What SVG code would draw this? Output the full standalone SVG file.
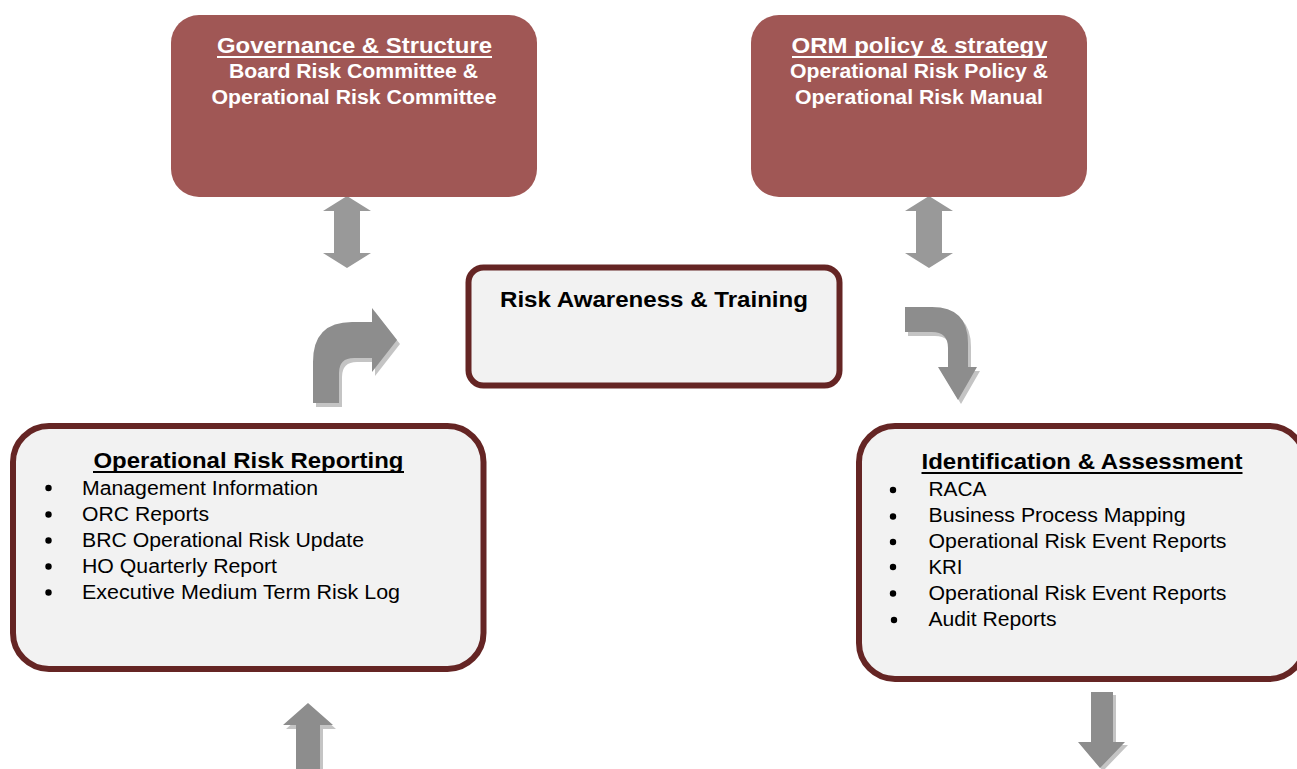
<svg xmlns="http://www.w3.org/2000/svg" width="1297" height="769" viewBox="0 0 1297 769">
<style>
text{font-family:"Liberation Sans",Arial,sans-serif}
.tb{fill:#a05755}
.lb{fill:#f2f2f2;stroke:#652524;stroke-width:6}
.wt{fill:#ffffff;font-weight:bold;text-anchor:middle}
.bt{fill:#000;font-size:20px}
.ttl{fill:#000;font-weight:bold;font-size:22.5px;text-anchor:middle}
.arr{fill:#8d8d8d}
.dar{fill:#999999}
.sh{fill:#c4c4c4}
.ul{stroke-width:2}
</style>
<rect width="1297" height="769" fill="#ffffff"/>
<g id="connectors">
<path class="dar" d="M347 196 L371 211 L360 211 L360 253 L371 253 L347 268 L323 253 L334 253 L334 211 L323 211 Z"/>
<path class="dar" d="M929 196 L953 211 L942 211 L942 253 L953 253 L929 268 L905 253 L916 253 L916 211 L905 211 Z"/>
<g transform="translate(3,4)"><path class="sh" d="M313 403 L313 362 Q313 322 352 322 L372 322 L372 308 L397 340 L372 372 L372 358 L354 358 Q339 358 339 373 L339 403 Z"/></g>
<path class="arr" d="M313 403 L313 362 Q313 322 352 322 L372 322 L372 308 L397 340 L372 372 L372 358 L354 358 Q339 358 339 373 L339 403 Z"/>
<g transform="translate(3,4)"><path class="sh" d="M905 307 L932 307 Q968 307 968 343 L968 367 L977 367 L958 400 L938 367 L948 367 L948 348 Q948 332 932 332 L905 332 Z"/></g>
<path class="arr" d="M905 307 L932 307 Q968 307 968 343 L968 367 L977 367 L958 400 L938 367 L948 367 L948 348 Q948 332 932 332 L905 332 Z"/>
<g transform="translate(3,4)"><path class="sh" d="M308 703 L333 725 L320 725 L320 775 L296 775 L296 725 L283 725 Z"/></g>
<path class="arr" d="M308 703 L333 725 L320 725 L320 775 L296 775 L296 725 L283 725 Z"/>
<g transform="translate(3,3)"><path class="sh" d="M1091 692 L1113 692 L1113 742 L1125 742 L1100 768 L1078 742 L1091 742 Z"/></g>
<path class="arr" d="M1091 692 L1113 692 L1113 742 L1125 742 L1100 768 L1078 742 L1091 742 Z"/>
</g>
<g id="governance">
<rect class="tb" x="171" y="15" width="366" height="182" rx="28"/>
<text class="wt" x="354.5" y="53" font-size="22.5" textLength="275" lengthAdjust="spacingAndGlyphs">Governance &amp; Structure</text>
<line class="ul" x1="217" y1="57" x2="492" y2="57" stroke="#ffffff"/>
<text class="wt" x="353.5" y="78" font-size="20" textLength="249" lengthAdjust="spacingAndGlyphs">Board Risk Committee &amp;</text>
<text class="wt" x="354" y="103.5" font-size="20" textLength="285" lengthAdjust="spacingAndGlyphs">Operational Risk Committee</text>
</g>
<g id="orm-policy">
<rect class="tb" x="751" y="15" width="336" height="182" rx="28"/>
<text class="wt" x="919.5" y="53" font-size="22.5" textLength="256" lengthAdjust="spacingAndGlyphs">ORM policy &amp; strategy</text>
<line class="ul" x1="792" y1="57" x2="1047" y2="57" stroke="#ffffff"/>
<text class="wt" x="919" y="78" font-size="20" textLength="258" lengthAdjust="spacingAndGlyphs">Operational Risk Policy &amp;</text>
<text class="wt" x="919" y="103.5" font-size="20" textLength="248" lengthAdjust="spacingAndGlyphs">Operational Risk Manual</text>
</g>
<g id="awareness">
<rect class="lb" x="468.5" y="267.5" width="371" height="118" rx="15" stroke-width="5"/>
<text class="ttl" x="654" y="307" textLength="308" lengthAdjust="spacingAndGlyphs">Risk Awareness &amp; Training</text>
</g>
<g id="reporting">
<rect class="lb" x="13" y="426" width="470.5" height="243" rx="36"/>
<text class="ttl" x="248.5" y="468" textLength="310" lengthAdjust="spacingAndGlyphs">Operational Risk Reporting</text>
<line class="ul" x1="93" y1="472" x2="404" y2="472" stroke="#000"/>
<g fill="#000">
<circle cx="48.5" cy="488" r="3.2"/><circle cx="48.5" cy="514.5" r="3.2"/><circle cx="48.5" cy="540.5" r="3.2"/><circle cx="48.5" cy="566.5" r="3.2"/><circle cx="48.5" cy="592.5" r="3.2"/>
</g>
<text class="bt" x="82" y="495" textLength="236" lengthAdjust="spacingAndGlyphs">Management Information</text>
<text class="bt" x="82" y="521" textLength="127" lengthAdjust="spacingAndGlyphs">ORC Reports</text>
<text class="bt" x="82" y="547" textLength="282" lengthAdjust="spacingAndGlyphs">BRC Operational Risk Update</text>
<text class="bt" x="82" y="573" textLength="195" lengthAdjust="spacingAndGlyphs">HO Quarterly Report</text>
<text class="bt" x="82" y="599" textLength="318" lengthAdjust="spacingAndGlyphs">Executive Medium Term Risk Log</text>
</g>
<g id="identification">
<rect class="lb" x="859" y="426" width="446" height="253" rx="36"/>
<text class="ttl" x="1082" y="469" textLength="321" lengthAdjust="spacingAndGlyphs">Identification &amp; Assessment</text>
<line class="ul" x1="921.5" y1="473" x2="1242.5" y2="473" stroke="#000"/>
<g fill="#000">
<circle cx="893" cy="490" r="3.2"/><circle cx="893" cy="516.5" r="3.2"/><circle cx="893" cy="542" r="3.2"/><circle cx="893" cy="567" r="3.2"/><circle cx="893" cy="593.5" r="3.2"/><circle cx="894" cy="620" r="3.2"/>
</g>
<text class="bt" x="928.5" y="496" textLength="58" lengthAdjust="spacingAndGlyphs">RACA</text>
<text class="bt" x="928.5" y="522" textLength="257" lengthAdjust="spacingAndGlyphs">Business Process Mapping</text>
<text class="bt" x="928.5" y="548" textLength="298" lengthAdjust="spacingAndGlyphs">Operational Risk Event Reports</text>
<text class="bt" x="928.5" y="573.5" textLength="34" lengthAdjust="spacingAndGlyphs">KRI</text>
<text class="bt" x="928.5" y="600" textLength="298" lengthAdjust="spacingAndGlyphs">Operational Risk Event Reports</text>
<text class="bt" x="928.5" y="626" textLength="128" lengthAdjust="spacingAndGlyphs">Audit Reports</text>
</g>
</svg>
